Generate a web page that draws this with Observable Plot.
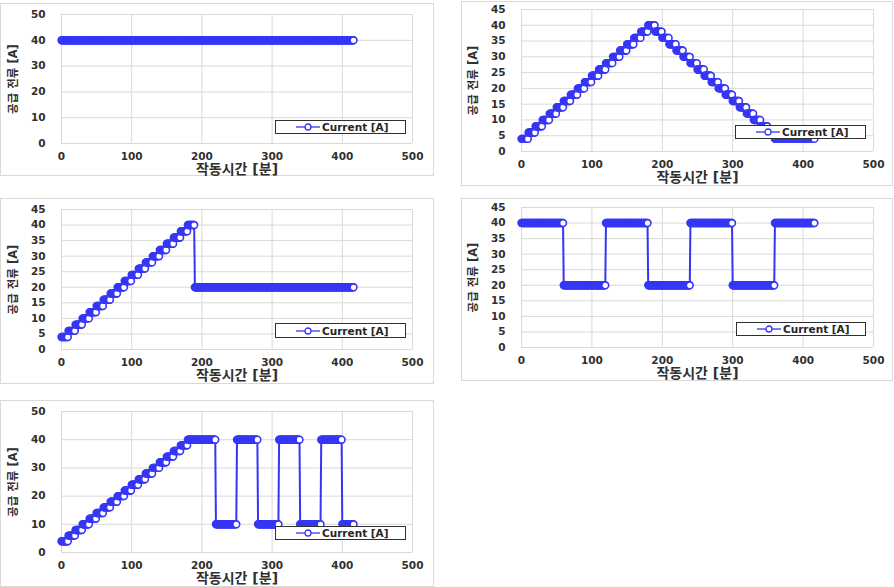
<!DOCTYPE html>
<html>
<head>
<meta charset="utf-8">
<script src="https://cdn.jsdelivr.net/npm/d3@7"></script>
<script src="https://cdn.jsdelivr.net/npm/@observablehq/plot@0.6"></script>
<style>
  html, body { margin: 0; padding: 0; background: #fff; }
  #root { position: relative; width: 894px; height: 587px; overflow: hidden; background: #fff;
          font-family: "DejaVu Sans", "Noto Sans CJK KR", sans-serif; }
  .panel { position: absolute; outline: 1px solid #d9d9d9; outline-offset: -1px; background: #fff; }
  .panel svg { position: absolute; left: 0; top: 0; overflow: visible; }
  .panel svg [aria-label="x-axis label"] text { font-size: 14px; font-weight: bold; }
  .panel svg [aria-label="y-axis label"] text { font-size: 11.5px; font-weight: bold; }
  .legend { position: absolute; box-sizing: border-box; border: 1px solid #303030; background: #fff;
            display: flex; align-items: center; font-weight: bold; font-size: 10.5px; color: #262626; }
  .legend svg { display: block; margin-left: 20px; margin-right: 2px; }
</style>
</head>
<body>
<div id="root"></div>
<script>
// ---- data ----
const xTicks = [0, 100, 200, 300, 400, 500];
const yTicks50 = [0, 10, 20, 30, 40, 50];
const yTicks45 = [0, 5, 10, 15, 20, 25, 30, 35, 40, 45];
const lastMinute = 416;           // last logged minute
const seriesName = "Current [A]";
const xTitle = "작동시간 [분]";
const yTitle = "공급 전류 [A]";

// step schedules: start minute of each step and its current [A]
const p1Starts = [0];
const p1Values = [40];

const p2Starts = [0, 10, 20, 30, 40, 50, 60, 70, 80, 90, 100, 110, 120, 130, 140, 150, 160, 170, 180,
                  190, 200, 210, 220, 230, 240, 250, 260, 270, 280, 290, 300, 310, 320, 330, 340, 350, 360];
const p2Values = [4, 6, 8, 10, 12, 14, 16, 18, 20, 22, 24, 26, 28, 30, 32, 34, 36, 38, 40,
                  38, 36, 34, 32, 30, 28, 26, 24, 22, 20, 18, 16, 14, 12, 10, 8, 6, 4];

const p3Starts = [0, 10, 20, 30, 40, 50, 60, 70, 80, 90, 100, 110, 120, 130, 140, 150, 160, 170, 180, 190];
const p3Values = [4, 6, 8, 10, 12, 14, 16, 18, 20, 22, 24, 26, 28, 30, 32, 34, 36, 38, 40, 20];

const p4Starts = [0, 60, 120, 180, 240, 300, 360];
const p4Values = [40, 20, 40, 20, 40, 20, 40];

const p5Starts = [0, 10, 20, 30, 40, 50, 60, 70, 80, 90, 100, 110, 120, 130, 140, 150, 160, 170,
                  180, 220, 250, 280, 310, 340, 370, 400];
const p5Values = [4, 6, 8, 10, 12, 14, 16, 18, 20, 22, 24, 26, 28, 30, 32, 34, 36, 38,
                  40, 10, 40, 10, 40, 10, 40, 10];

// ---- layout ----
const BLUE = "#3535f5";
const TEXT = "#303030";
const FONT = "'DejaVu Sans', 'Noto Sans CJK KR', sans-serif";

const panels = [
  {left: 0,   top: 3,   w: 434, h: 173, mL: 61, mR: 22, mT: 11, mB: 33, yMax: 50, yTicks: yTicks50, starts: p1Starts, values: p1Values, leg: [275, 120, 131, 14]},
  {left: 461, top: 1,   w: 432, h: 185, mL: 60, mR: 20, mT: 8,  mB: 35, yMax: 45, yTicks: yTicks45, starts: p2Starts, values: p2Values, leg: [735, 125, 131, 14]},
  {left: 0,   top: 198, w: 434, h: 186, mL: 61, mR: 22, mT: 11, mB: 35, yMax: 45, yTicks: yTicks45, starts: p3Starts, values: p3Values, leg: [275, 323, 131, 15]},
  {left: 461, top: 198, w: 432, h: 183, mL: 60, mR: 20, mT: 9,  mB: 34, yMax: 45, yTicks: yTicks45, starts: p4Starts, values: p4Values, leg: [736, 322, 130, 14]},
  {left: 0,   top: 400, w: 434, h: 187, mL: 61, mR: 22, mT: 11, mB: 35, yMax: 50, yTicks: yTicks50, starts: p5Starts, values: p5Values, leg: [275, 526, 131, 14]}
];

function expand(starts, values) {
  const out = [];
  for (let t = 0; t <= lastMinute; t++) {
    let k = 0;
    for (let i = 0; i < starts.length; i++) if (starts[i] <= t) k = i;
    out.push({t, v: values[k]});
  }
  return out;
}

const root = document.getElementById("root");

for (const p of panels) {
  const data = expand(p.starts, p.values);
  const div = document.createElement("div");
  div.className = "panel";
  Object.assign(div.style, {left: p.left + "px", top: p.top + "px", width: p.w + "px", height: p.h + "px"});
  const chart = Plot.plot({
    width: p.w, height: p.h,
    marginLeft: p.mL, marginRight: p.mR, marginTop: p.mT, marginBottom: p.mB,
    style: {fontFamily: FONT, fontSize: "10.5px", fontWeight: "bold", color: TEXT, background: "transparent", overflow: "visible"},
    x: {domain: [0, 500], ticks: xTicks, tickSize: 0, tickPadding: 9, tickFormat: d => String(d),
        label: xTitle, labelAnchor: "center", labelOffset: 30, labelArrow: false},
    y: {domain: [0, p.yMax], ticks: p.yTicks, tickSize: 0, tickPadding: 16, tickFormat: d => String(d),
        label: yTitle, labelAnchor: "center", labelOffset: 53, labelArrow: false},
    marks: [
      Plot.ruleY(p.yTicks, {stroke: "#d9d9d9", strokeWidth: 1}),
      Plot.ruleX(xTicks, {stroke: "#d9d9d9", strokeWidth: 1}),
      Plot.line(data, {x: "t", y: "v", stroke: BLUE, strokeWidth: 2, curve: "linear"}),
      Plot.dot(data, {x: "t", y: "v", r: 3.4, fill: "white", stroke: BLUE, strokeWidth: 1.6})
    ]
  });
  div.appendChild(chart);
  root.appendChild(div);
}

// legends (drawn over the data, like the original)
for (const p of panels) {
  const [lx, ly, lw, lh] = p.leg;
  const lg = document.createElement("div");
  lg.className = "legend";
  Object.assign(lg.style, {left: lx + "px", top: ly + "px", width: lw + "px", height: lh + "px"});
  const ns = "http://www.w3.org/2000/svg";
  const s = document.createElementNS(ns, "svg");
  s.setAttribute("width", 24); s.setAttribute("height", 10);
  const ln = document.createElementNS(ns, "line");
  ln.setAttribute("x1", 0); ln.setAttribute("x2", 24); ln.setAttribute("y1", 5); ln.setAttribute("y2", 5);
  ln.setAttribute("stroke", BLUE); ln.setAttribute("stroke-width", 1.3);
  const c = document.createElementNS(ns, "circle");
  c.setAttribute("cx", 12); c.setAttribute("cy", 5); c.setAttribute("r", 3);
  c.setAttribute("fill", "white"); c.setAttribute("stroke", BLUE); c.setAttribute("stroke-width", 1.3);
  s.appendChild(ln); s.appendChild(c);
  lg.appendChild(s);
  const span = document.createElement("span");
  span.textContent = seriesName;
  lg.appendChild(span);
  root.appendChild(lg);
}
</script>
</body>
</html>
